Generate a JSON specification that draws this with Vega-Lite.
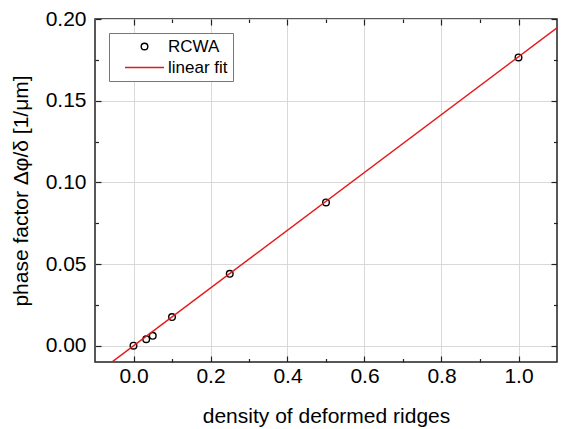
{
  "$schema": "https://vega.github.io/schema/vega-lite/v6.json",
  "width": 462,
  "height": 343,
  "autosize": {"type": "none"},
  "padding": {"left": 95, "top": 19, "right": 5, "bottom": 67},
  "config": {
    "font": "Liberation Sans",
    "view": {"stroke": "#222", "strokeWidth": 1.5},
    "axis": {
      "domain": false,
      "gridColor": "#d9d9d9",
      "gridWidth": 1,
      "tickColor": "#222",
      "tickWidth": 1.2,
      "labelColor": "#000",
      "titleColor": "#000",
      "labelFontSize": 21,
      "titleFontSize": 21,
      "titleFontWeight": "normal"
    },
    "legend": {
      "orient": "none",
      "legendX": 14,
      "legendY": 14,
      "fillColor": "#ffffff",
      "strokeColor": "#777777",
      "padding": 5,
      "labelFontSize": 17,
      "labelColor": "#000",
      "symbolSize": 100,
      "symbolStrokeWidth": 1.4,
      "symbolOffset": 22,
      "labelOffset": 15,
      "rowPadding": 3
    }
  },
  "layer": [
    {
      "data": {"values": [
        {"x": 0.0, "y": 0.0, "series": "RCWA"},
        {"x": 0.033, "y": 0.0040, "series": "RCWA"},
        {"x": 0.05, "y": 0.0060, "series": "RCWA"},
        {"x": 0.1, "y": 0.0175, "series": "RCWA"},
        {"x": 0.25, "y": 0.0440, "series": "RCWA"},
        {"x": 0.5, "y": 0.0877, "series": "RCWA"},
        {"x": 1.0, "y": 0.1765, "series": "RCWA"}
      ]},
      "mark": {"type": "point", "filled": false, "strokeWidth": 1.4, "opacity": 1, "size": 100},
      "encoding": {
        "x": {
          "field": "x", "type": "quantitative",
          "scale": {"domain": [-0.1, 1.1], "nice": false, "zero": false},
          "axis": {
            "orient": "bottom",
            "title": "density of deformed ridges",
            "values": [0, 0.1, 0.2, 0.3, 0.4, 0.5, 0.6, 0.7, 0.8, 0.9, 1.0],
            "labelExpr": "round(datum.value*10) % 2 == 0 ? format(datum.value, '.1f') : ''",
            "tickSize": {"condition": {"test": "round(datum.value*10) % 2 == 0", "value": -6}, "value": -3.5},
            "gridOpacity": {"condition": {"test": "round(datum.value*10) % 2 == 0", "value": 1}, "value": 0},
            "labelPadding": 9,
            "titlePadding": 19
          }
        },
        "y": {
          "field": "y", "type": "quantitative",
          "scale": {"domain": [-0.01, 0.2], "nice": false, "zero": false},
          "axis": {
            "orient": "left",
            "title": "phase factor Δφ/δ [1/μm]",
            "values": [0, 0.025, 0.05, 0.075, 0.1, 0.125, 0.15, 0.175, 0.2],
            "labelExpr": "round(datum.value*40) % 2 == 0 ? format(datum.value, '.2f') : ''",
            "tickSize": {"condition": {"test": "round(datum.value*40) % 2 == 0", "value": -6}, "value": -3.5},
            "gridOpacity": {"condition": {"test": "round(datum.value*40) % 2 == 0", "value": 1}, "value": 0},
            "labelPadding": 15,
            "titlePadding": 14
          }
        },
        "color": {
          "field": "series", "type": "nominal",
          "scale": {"domain": ["RCWA", "linear fit"], "range": ["#000000", "#e41a1c"]},
          "legend": {"title": null, "labelExpr": "datum.label + '\u00a0\u00a0'"}
        },
        "shape": {
          "field": "series", "type": "nominal",
          "scale": {"domain": ["RCWA", "linear fit"], "range": ["M -0.66,0 A 0.66,0.66 0 1,1 0.66,0 A 0.66,0.66 0 1,1 -0.66,0 Z", "M -3.9,0 L 3.9,0"]},
          "legend": {"title": null, "labelExpr": "datum.label + '\u00a0\u00a0'"}
        }
      }
    },
    {
      "data": {"values": [
        {"x": -0.1, "y": -0.0178, "series": "linear fit"},
        {"x": 1.1, "y": 0.1946, "series": "linear fit"}
      ]},
      "mark": {"type": "line", "clip": true, "strokeWidth": 1.5},
      "encoding": {
        "x": {
          "field": "x", "type": "quantitative",
          "axis": {
            "orient": "top", "title": null, "labels": false, "grid": false,
            "values": [0, 0.1, 0.2, 0.3, 0.4, 0.5, 0.6, 0.7, 0.8, 0.9, 1.0],
            "tickSize": {"condition": {"test": "round(datum.value*10) % 2 == 0", "value": -6}, "value": -3.5}
          }
        },
        "y": {
          "field": "y", "type": "quantitative",
          "axis": {
            "orient": "right", "title": null, "labels": false, "grid": false,
            "values": [0, 0.025, 0.05, 0.075, 0.1, 0.125, 0.15, 0.175, 0.2],
            "tickSize": {"condition": {"test": "round(datum.value*40) % 2 == 0", "value": -6}, "value": -3.5}
          }
        },
        "color": {"field": "series", "type": "nominal"}
      }
    }
  ],
  "resolve": {"axis": {"x": "independent", "y": "independent"}}
}
